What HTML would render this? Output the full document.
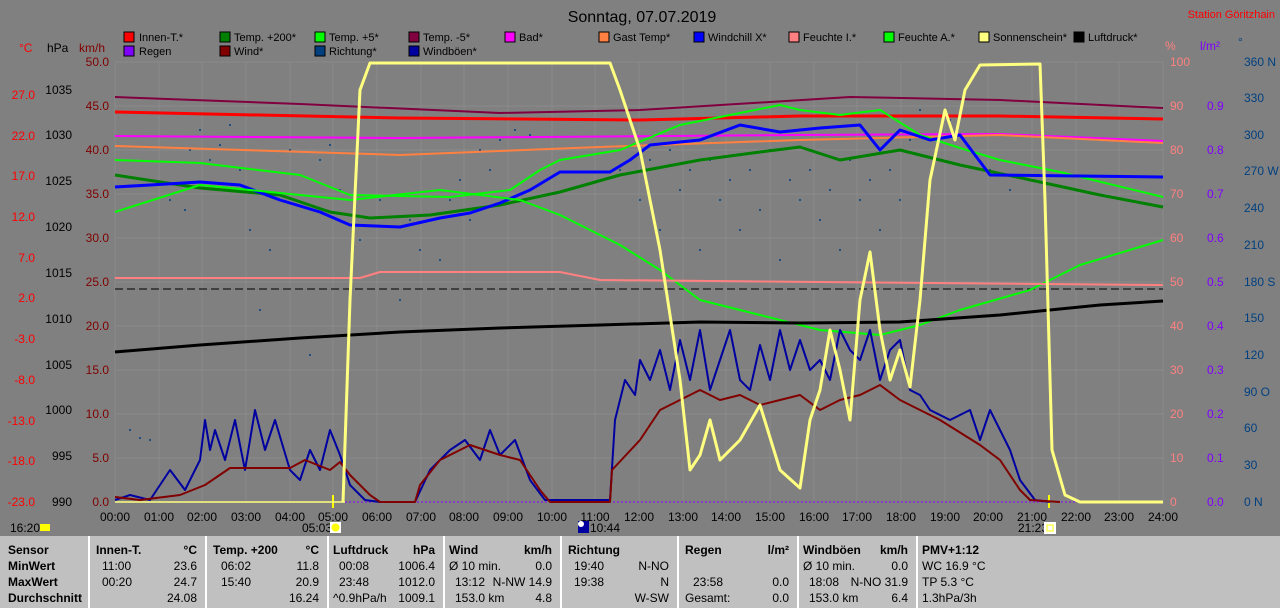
<!DOCTYPE html>
<html><head><meta charset="utf-8"><style>
body{margin:0;width:1280px;height:608px;background:#808080;overflow:hidden;font-family:"Liberation Sans",sans-serif}
#tbl{position:absolute;left:0;top:536px;width:1280px;height:72px;background:#c0c0c0;font-size:12px}
.col{position:absolute;top:0;height:72px;border-left:2px solid #fff;box-sizing:border-box}
.r{position:absolute;white-space:nowrap}
.b{font-weight:bold}
</style></head><body>
<svg width="1280" height="536" style="position:absolute;left:0;top:0" font-family="Liberation Sans, sans-serif">
<rect width="1280" height="536" fill="#808080"/>
<g stroke="#8a8a8a" stroke-width="1">
<line x1="115" y1="62" x2="1163" y2="62"/><line x1="115" y1="106" x2="1163" y2="106"/><line x1="115" y1="150" x2="1163" y2="150"/><line x1="115" y1="194" x2="1163" y2="194"/><line x1="115" y1="238" x2="1163" y2="238"/><line x1="115" y1="282" x2="1163" y2="282"/><line x1="115" y1="326" x2="1163" y2="326"/><line x1="115" y1="370" x2="1163" y2="370"/><line x1="115" y1="414" x2="1163" y2="414"/><line x1="115" y1="458" x2="1163" y2="458"/>
<line x1="115" y1="62" x2="115" y2="502"/><line x1="159" y1="62" x2="159" y2="502"/><line x1="202" y1="62" x2="202" y2="502"/><line x1="246" y1="62" x2="246" y2="502"/><line x1="290" y1="62" x2="290" y2="502"/><line x1="333" y1="62" x2="333" y2="502"/><line x1="377" y1="62" x2="377" y2="502"/><line x1="421" y1="62" x2="421" y2="502"/><line x1="464" y1="62" x2="464" y2="502"/><line x1="508" y1="62" x2="508" y2="502"/><line x1="552" y1="62" x2="552" y2="502"/><line x1="595" y1="62" x2="595" y2="502"/><line x1="639" y1="62" x2="639" y2="502"/><line x1="683" y1="62" x2="683" y2="502"/><line x1="726" y1="62" x2="726" y2="502"/><line x1="770" y1="62" x2="770" y2="502"/><line x1="814" y1="62" x2="814" y2="502"/><line x1="857" y1="62" x2="857" y2="502"/><line x1="901" y1="62" x2="901" y2="502"/><line x1="945" y1="62" x2="945" y2="502"/><line x1="988" y1="62" x2="988" y2="502"/><line x1="1032" y1="62" x2="1032" y2="502"/><line x1="1076" y1="62" x2="1076" y2="502"/><line x1="1119" y1="62" x2="1119" y2="502"/><line x1="1163" y1="62" x2="1163" y2="502"/>
</g>
<text x="642" y="22" font-size="16" fill="#000" text-anchor="middle">Sonntag, 07.07.2019</text>
<text x="1275" y="18" font-size="11" fill="#ff0000" text-anchor="end">Station Göritzhain</text>
<g font-size="11" fill="#000">
<rect x="124" y="32" width="10" height="10" fill="#ff0000" stroke="#000"/><text x="139" y="41">Innen-T.*</text>
<rect x="220" y="32" width="10" height="10" fill="#008000" stroke="#000"/><text x="234" y="41">Temp. +200*</text>
<rect x="315" y="32" width="10" height="10" fill="#00ff00" stroke="#000"/><text x="329" y="41">Temp. +5*</text>
<rect x="409" y="32" width="10" height="10" fill="#800040" stroke="#000"/><text x="423" y="41">Temp. -5*</text>
<rect x="505" y="32" width="10" height="10" fill="#ff00ff" stroke="#000"/><text x="519" y="41">Bad*</text>
<rect x="599" y="32" width="10" height="10" fill="#ff8040" stroke="#000"/><text x="613" y="41">Gast Temp*</text>
<rect x="694" y="32" width="10" height="10" fill="#0000ff" stroke="#000"/><text x="708" y="41">Windchill X*</text>
<rect x="789" y="32" width="10" height="10" fill="#ff8080" stroke="#000"/><text x="803" y="41">Feuchte I.*</text>
<rect x="884" y="32" width="10" height="10" fill="#00ff00" stroke="#000"/><text x="898" y="41">Feuchte A.*</text>
<rect x="979" y="32" width="10" height="10" fill="#ffff80" stroke="#000"/><text x="993" y="41">Sonnenschein*</text>
<rect x="1074" y="32" width="10" height="10" fill="#000" stroke="#000"/><text x="1088" y="41">Luftdruck*</text>
<rect x="124" y="46" width="10" height="10" fill="#8000ff" stroke="#000"/><text x="139" y="55">Regen</text>
<rect x="220" y="46" width="10" height="10" fill="#800000" stroke="#000"/><text x="234" y="55">Wind*</text>
<rect x="315" y="46" width="10" height="10" fill="#004080" stroke="#000"/><text x="329" y="55">Richtung*</text>
<rect x="409" y="46" width="10" height="10" fill="#0000a0" stroke="#000"/><text x="423" y="55">Windböen*</text>
</g>
<g font-size="12">
<text x="19" y="52" fill="#ff0000">°C</text><text x="47" y="52" fill="#000">hPa</text><text x="79" y="52" fill="#800000">km/h</text>
<text x="1165" y="50" fill="#ff8080">%</text><text x="1200" y="50" fill="#8000ff">l/m²</text><text x="1238" y="46" fill="#004080">°</text>
</g>
<g font-size="12" fill="#ff0000" text-anchor="end">
<text x="35" y="99">27.0</text><text x="35" y="140">22.0</text><text x="35" y="180">17.0</text><text x="35" y="221">12.0</text><text x="35" y="262">7.0</text><text x="35" y="302">2.0</text><text x="35" y="343">-3.0</text><text x="35" y="384">-8.0</text><text x="35" y="425">-13.0</text><text x="35" y="465">-18.0</text><text x="35" y="506">-23.0</text>
</g>
<g font-size="12" fill="#000" text-anchor="end">
<text x="72" y="94">1035</text><text x="72" y="139">1030</text><text x="72" y="185">1025</text><text x="72" y="231">1020</text><text x="72" y="277">1015</text><text x="72" y="323">1010</text><text x="72" y="369">1005</text><text x="72" y="414">1000</text><text x="72" y="460">995</text><text x="72" y="506">990</text>
</g>
<g font-size="12" fill="#800000" text-anchor="end">
<text x="109" y="66">50.0</text><text x="109" y="110">45.0</text><text x="109" y="154">40.0</text><text x="109" y="198">35.0</text><text x="109" y="242">30.0</text><text x="109" y="286">25.0</text><text x="109" y="330">20.0</text><text x="109" y="374">15.0</text><text x="109" y="418">10.0</text><text x="109" y="462">5.0</text><text x="109" y="506">0.0</text>
</g>
<g font-size="12" fill="#ff8080">
<text x="1170" y="66">100</text><text x="1170" y="110">90</text><text x="1170" y="154">80</text><text x="1170" y="198">70</text><text x="1170" y="242">60</text><text x="1170" y="286">50</text><text x="1170" y="330">40</text><text x="1170" y="374">30</text><text x="1170" y="418">20</text><text x="1170" y="462">10</text><text x="1170" y="506">0</text>
</g>
<g font-size="12" fill="#8000ff">
<text x="1207" y="110">0.9</text><text x="1207" y="154">0.8</text><text x="1207" y="198">0.7</text><text x="1207" y="242">0.6</text><text x="1207" y="286">0.5</text><text x="1207" y="330">0.4</text><text x="1207" y="374">0.3</text><text x="1207" y="418">0.2</text><text x="1207" y="462">0.1</text><text x="1207" y="506">0.0</text>
</g>
<g font-size="12" fill="#004080">
<text x="1244" y="66">360 N</text><text x="1244" y="102">330</text><text x="1244" y="139">300</text><text x="1244" y="175">270 W</text><text x="1244" y="212">240</text><text x="1244" y="249">210</text><text x="1244" y="286">180 S</text><text x="1244" y="322">150</text><text x="1244" y="359">120</text><text x="1244" y="396">90 O</text><text x="1244" y="432">60</text><text x="1244" y="469">30</text><text x="1244" y="506">0 N</text>
</g>
<g font-size="12" fill="#000" text-anchor="middle">
<text x="115" y="521">00:00</text><text x="159" y="521">01:00</text><text x="202" y="521">02:00</text><text x="246" y="521">03:00</text><text x="290" y="521">04:00</text><text x="333" y="521">05:00</text><text x="377" y="521">06:00</text><text x="421" y="521">07:00</text><text x="464" y="521">08:00</text><text x="508" y="521">09:00</text><text x="552" y="521">10:00</text><text x="595" y="521">11:00</text><text x="639" y="521">12:00</text><text x="683" y="521">13:00</text><text x="726" y="521">14:00</text><text x="770" y="521">15:00</text><text x="814" y="521">16:00</text><text x="857" y="521">17:00</text><text x="901" y="521">18:00</text><text x="945" y="521">19:00</text><text x="988" y="521">20:00</text><text x="1032" y="521">21:00</text><text x="1076" y="521">22:00</text><text x="1119" y="521">23:00</text><text x="1163" y="521">24:00</text>
</g>
<g font-size="12" fill="#000">
<text x="10" y="532">16:20</text><rect x="40" y="524" width="10" height="7" fill="#ffff00"/>
<text x="302" y="532">05:03</text><rect x="330" y="522" width="11" height="11" fill="#fff"/><circle cx="335.5" cy="527.5" r="4" fill="#ffff00"/>
<text x="590" y="532">10:44</text><rect x="578" y="521" width="11" height="12" fill="#0000a0"/><circle cx="581" cy="524" r="3" fill="#fff"/>
<text x="1018" y="532">21:23</text><rect x="1044" y="522" width="12" height="12" fill="#fff"/><rect x="1047" y="525" width="6" height="6" fill="none" stroke="#ffff00"/>
</g>
<line x1="333" y1="495" x2="333" y2="508" stroke="#ffff00" stroke-width="2"/>
<line x1="1049" y1="495" x2="1049" y2="508" stroke="#ffff00" stroke-width="2"/>
<line x1="115" y1="289" x2="1163" y2="289" stroke="#000" stroke-dasharray="8,4"/>
<line x1="115" y1="502" x2="345" y2="502" stroke="#ffff80" stroke-width="1.5"/>
<line x1="345" y1="502" x2="1163" y2="502" stroke="#8000ff" stroke-dasharray="2,2"/>
<g fill="#004080">
<circle cx="130" cy="430" r="1"/><circle cx="140" cy="438" r="1"/><circle cx="150" cy="440" r="1"/><circle cx="170" cy="200" r="1"/><circle cx="185" cy="210" r="1"/><circle cx="190" cy="150" r="1"/><circle cx="200" cy="130" r="1"/><circle cx="210" cy="160" r="1"/><circle cx="220" cy="145" r="1"/><circle cx="230" cy="125" r="1"/><circle cx="240" cy="170" r="1"/><circle cx="250" cy="230" r="1"/><circle cx="260" cy="310" r="1"/><circle cx="270" cy="250" r="1"/><circle cx="280" cy="200" r="1"/><circle cx="290" cy="150" r="1"/><circle cx="300" cy="175" r="1"/><circle cx="310" cy="355" r="1"/><circle cx="320" cy="160" r="1"/><circle cx="330" cy="145" r="1"/><circle cx="340" cy="190" r="1"/><circle cx="360" cy="240" r="1"/><circle cx="380" cy="200" r="1"/><circle cx="400" cy="300" r="1"/><circle cx="410" cy="220" r="1"/><circle cx="420" cy="250" r="1"/><circle cx="440" cy="260" r="1"/><circle cx="450" cy="200" r="1"/><circle cx="460" cy="180" r="1"/><circle cx="470" cy="220" r="1"/><circle cx="480" cy="150" r="1"/><circle cx="490" cy="170" r="1"/><circle cx="500" cy="140" r="1"/><circle cx="515" cy="130" r="1"/><circle cx="530" cy="135" r="1"/><circle cx="620" cy="170" r="1"/><circle cx="640" cy="200" r="1"/><circle cx="650" cy="160" r="1"/><circle cx="660" cy="230" r="1"/><circle cx="670" cy="150" r="1"/><circle cx="680" cy="190" r="1"/><circle cx="690" cy="170" r="1"/><circle cx="700" cy="250" r="1"/><circle cx="710" cy="160" r="1"/><circle cx="720" cy="200" r="1"/><circle cx="730" cy="180" r="1"/><circle cx="740" cy="230" r="1"/><circle cx="750" cy="170" r="1"/><circle cx="760" cy="210" r="1"/><circle cx="770" cy="150" r="1"/><circle cx="780" cy="260" r="1"/><circle cx="790" cy="180" r="1"/><circle cx="800" cy="200" r="1"/><circle cx="810" cy="170" r="1"/><circle cx="820" cy="220" r="1"/><circle cx="830" cy="190" r="1"/><circle cx="840" cy="250" r="1"/><circle cx="850" cy="160" r="1"/><circle cx="860" cy="200" r="1"/><circle cx="870" cy="180" r="1"/><circle cx="880" cy="230" r="1"/><circle cx="890" cy="170" r="1"/><circle cx="900" cy="200" r="1"/><circle cx="910" cy="140" r="1"/><circle cx="920" cy="110" r="1"/><circle cx="930" cy="190" r="1"/><circle cx="950" cy="120" r="1"/><circle cx="970" cy="150" r="1"/><circle cx="990" cy="170" r="1"/><circle cx="1010" cy="190" r="1"/>
</g>
<g fill="none" stroke-linejoin="round">
<polyline stroke="#800040" stroke-width="2" points="115,97 300,104 500,113 640,110 850,97 1000,100 1163,108"/>
<polyline stroke="#ff0000" stroke-width="3" points="115,112 400,118 640,120 800,116 1000,116 1163,119"/>
<polyline stroke="#ff00ff" stroke-width="2" points="115,136 400,138 800,135 1000,134 1163,141"/>
<polyline stroke="#ff8040" stroke-width="2" points="115,146 400,155 600,147 800,140 1000,135 1163,143"/>
<polyline stroke="#00ff00" stroke-width="2" points="115,160 200,163 300,175 350,195 450,197 510,190 540,170 560,160 620,150 680,125 720,117 780,105 800,110 840,115 880,110 920,135 960,148 1000,160 1060,172 1163,197"/>
<polyline stroke="#008000" stroke-width="3" points="115,175 200,188 280,195 330,212 370,218 430,215 500,205 560,192 620,175 700,160 760,152 800,147 840,160 870,155 900,150 960,165 1040,182 1100,195 1163,207"/>
<polyline stroke="#0000ff" stroke-width="3" points="115,187 150,185 200,182 240,185 280,200 320,212 350,225 400,227 440,218 470,213 500,203 530,190 560,172 610,172 630,160 650,145 700,140 740,125 780,132 820,128 860,125 880,150 900,130 930,140 960,135 990,175 1163,177"/>
<polyline stroke="#00ff00" stroke-width="2" points="115,212 200,185 300,195 350,200 440,190 520,200 560,215 620,245 660,270 700,300 760,315 820,330 880,335 920,325 960,310 1030,290 1080,265 1163,240"/>
<polyline stroke="#ff8080" stroke-width="2" points="115,278 360,278 380,272 560,272 600,280 1163,285"/>
<polyline stroke="#000" stroke-width="3" points="115,352 200,345 300,338 400,332 500,328 600,325 700,322 800,323 900,322 1000,315 1100,305 1163,301"/>
<polyline stroke="#0000a0" stroke-width="2" points="115,500 130,495 150,500 170,470 185,490 200,460 205,420 210,450 215,430 225,460 235,420 245,470 255,410 265,450 275,420 290,470 300,480 310,450 320,470 330,430 340,455 350,485 365,500 380,502 415,502 430,470 450,450 465,440 480,460 490,430 500,455 515,440 530,480 545,500 610,500 615,420 625,380 635,395 640,360 650,380 660,350 670,390 680,340 690,380 700,330 710,390 720,360 730,330 740,380 750,390 760,345 770,380 780,330 790,370 800,340 810,370 820,360 830,380 840,330 850,350 860,360 870,330 880,380 890,350 900,340 910,390 920,395 930,410 950,420 970,410 980,440 990,410 1000,430 1010,450 1020,480 1035,500 1050,502"/>
<polyline stroke="#800000" stroke-width="2" points="115,497 140,500 180,495 205,485 230,468 260,468 290,468 305,460 330,470 340,462 350,475 370,495 380,502 415,502 420,485 440,460 470,445 500,455 520,460 540,490 550,502 610,502 612,470 640,440 660,410 680,400 700,390 720,400 740,395 760,405 780,400 800,395 820,410 840,400 860,395 880,385 900,400 940,420 980,445 1000,460 1020,490 1030,500 1060,502"/>
<polyline stroke="#ffff80" stroke-width="3" points="343,502 350,300 360,90 370,63 610,63 620,90 640,150 660,250 680,380 690,470 700,455 710,420 720,460 740,440 760,405 780,470 800,488 810,420 820,390 830,330 840,370 850,420 860,300 870,252 880,330 890,380 900,350 910,387 920,300 930,180 945,110 955,140 965,90 980,65 1040,64 1045,200 1052,450 1065,495 1080,502 1163,502"/>
</g>
</svg>
<div id="tbl">
<div class="col" style="left:0;border-left:none;width:88px"><div class="r b" style="left:8px;top:7px">Sensor</div><div class="r b" style="left:8px;top:23px">MinWert</div><div class="r b" style="left:8px;top:39px">MaxWert</div><div class="r b" style="left:8px;top:55px">Durchschnitt</div></div>
<div class="col" style="left:88px;width:117px"><div class="r b" style="left:6px;top:7px">Innen-T.</div><div class="r b" style="right:8px;top:7px">°C</div><div class="r" style="left:12px;top:23px">11:00</div><div class="r" style="right:8px;top:23px">23.6</div><div class="r" style="left:12px;top:39px">00:20</div><div class="r" style="right:8px;top:39px">24.7</div><div class="r" style="right:8px;top:55px">24.08</div></div>
<div class="col" style="left:205px;width:122px"><div class="r b" style="left:6px;top:7px">Temp. +200</div><div class="r b" style="right:8px;top:7px">°C</div><div class="r" style="left:14px;top:23px">06:02</div><div class="r" style="right:8px;top:23px">11.8</div><div class="r" style="left:14px;top:39px">15:40</div><div class="r" style="right:8px;top:39px">20.9</div><div class="r" style="right:8px;top:55px">16.24</div></div>
<div class="col" style="left:327px;width:116px"><div class="r b" style="left:4px;top:7px">Luftdruck</div><div class="r b" style="right:8px;top:7px">hPa</div><div class="r" style="left:10px;top:23px">00:08</div><div class="r" style="right:8px;top:23px">1006.4</div><div class="r" style="left:10px;top:39px">23:48</div><div class="r" style="right:8px;top:39px">1012.0</div><div class="r" style="left:4px;top:55px">^0.9hPa/h</div><div class="r" style="right:8px;top:55px">1009.1</div></div>
<div class="col" style="left:443px;width:117px"><div class="r b" style="left:4px;top:7px">Wind</div><div class="r b" style="right:8px;top:7px">km/h</div><div class="r" style="left:4px;top:23px">Ø 10 min.</div><div class="r" style="right:8px;top:23px">0.0</div><div class="r" style="left:10px;top:39px">13:12</div><div class="r" style="right:8px;top:39px">N-NW 14.9</div><div class="r" style="left:10px;top:55px">153.0 km</div><div class="r" style="right:8px;top:55px">4.8</div></div>
<div class="col" style="left:560px;width:117px"><div class="r b" style="left:6px;top:7px">Richtung</div><div class="r" style="left:12px;top:23px">19:40</div><div class="r" style="right:8px;top:23px">N-NO</div><div class="r" style="left:12px;top:39px">19:38</div><div class="r" style="right:8px;top:39px">N</div><div class="r" style="right:8px;top:55px">W-SW</div></div>
<div class="col" style="left:677px;width:120px"><div class="r b" style="left:6px;top:7px">Regen</div><div class="r b" style="right:8px;top:7px">l/m²</div><div class="r" style="left:14px;top:39px">23:58</div><div class="r" style="right:8px;top:39px">0.0</div><div class="r" style="left:6px;top:55px">Gesamt:</div><div class="r" style="right:8px;top:55px">0.0</div></div>
<div class="col" style="left:797px;width:119px"><div class="r b" style="left:4px;top:7px">Windböen</div><div class="r b" style="right:8px;top:7px">km/h</div><div class="r" style="left:4px;top:23px">Ø 10 min.</div><div class="r" style="right:8px;top:23px">0.0</div><div class="r" style="left:10px;top:39px">18:08</div><div class="r" style="right:8px;top:39px">N-NO 31.9</div><div class="r" style="left:10px;top:55px">153.0 km</div><div class="r" style="right:8px;top:55px">6.4</div></div>
<div class="col" style="left:916px;width:364px"><div class="r b" style="left:4px;top:7px">PMV+1:12</div><div class="r" style="left:4px;top:23px">WC 16.9 °C</div><div class="r" style="left:4px;top:39px">TP 5.3 °C</div><div class="r" style="left:4px;top:55px">1.3hPa/3h</div></div>
</div>
</body></html>
